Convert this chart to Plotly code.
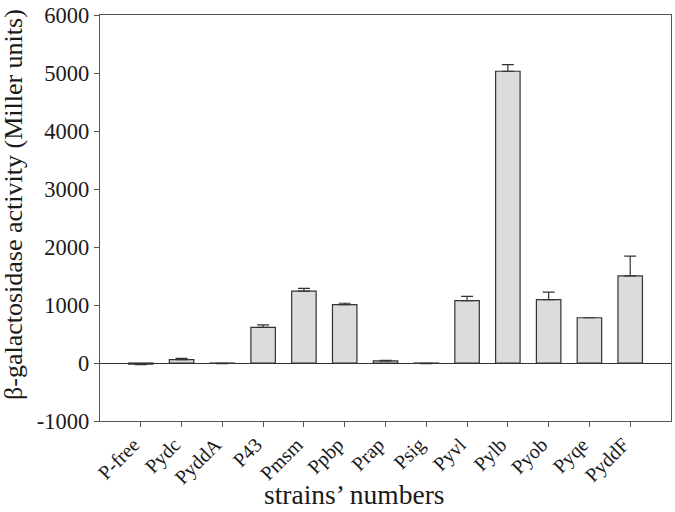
import plotly.graph_objects as go

strains = ["P-free", "Pydc", "PyddA", "P43", "Pmsm", "Ppbp", "Prap", "Psig",
           "Pyvl", "Pylb", "Pyob", "Pyqe", "PyddF"]
activity = [-20, 58, -5, 614, 1240, 1005, 38, -5, 1075, 5030, 1092, 780, 1502]
err_up = [0, 22, 0, 45, 45, 25, 8, 0, 75, 115, 130, 0, 340]
err_down = [10, 0, 5, 0, 0, 0, 0, 5, 0, 0, 0, 0, 0]
y_ticks = [-1000, 0, 1000, 2000, 3000, 4000, 5000, 6000]
y_ticktext = ["-1000", "0", "1000", "2000", "3000", "4000", "5000", "6000"]
x_title = "strains’ numbers"
y_title = "β-galactosidase activity (Miller units)"

font = "Liberation Serif"
axcol = "#555555"

fig = go.Figure(go.Bar(
    x=list(range(len(strains))), y=activity, width=0.6,
    marker=dict(color="#dcdcdc", line=dict(color="#333333", width=1.2)),
    error_y=dict(type="data", symmetric=False, array=err_up, arrayminus=err_down,
                 color="#333333", thickness=1.2, width=6),
))

fig.update_layout(
    width=675, height=512,
    margin=dict(l=100, r=3, t=11, b=91),
    plot_bgcolor="white", paper_bgcolor="white",
    showlegend=False,
    font=dict(family=font, color="#1a1a1a"),
    xaxis=dict(
        range=[-1, 13], tickmode="array", tickvals=list(range(len(strains))),
        ticktext=strains, tickangle=-45, tickfont=dict(size=20, family=font),
        ticks="outside", ticklen=5, tickcolor=axcol,
        ticklabelshift=-7, ticklabelstandoff=-2,
        showline=True, linecolor=axcol, linewidth=1.3, mirror=True,
        showgrid=False, zeroline=False,
    ),
    yaxis=dict(
        range=[-1000, 6000], tickmode="array", tickvals=y_ticks, ticktext=y_ticktext,
        tickfont=dict(size=22.5, family=font), ticklabeloverflow="allow",
        ticks="outside", ticklen=5, tickcolor=axcol,
        showline=True, linecolor=axcol, linewidth=1.3, mirror=True,
        showgrid=False, zeroline=True, zerolinecolor="#333333", zerolinewidth=1.2,
    ),
    annotations=[
        dict(text=x_title, xref="paper", yref="paper", x=(355 - 100) / 572, y=0,
             xanchor="center", yanchor="bottom", yshift=-91, showarrow=False,
             font=dict(size=27.5, family=font)),
        dict(text=y_title, xref="paper", yref="paper", x=0, y=0.5,
             xanchor="center", yanchor="middle", xshift=-87, yshift=13,
             textangle=-90, showarrow=False, font=dict(size=26, family=font)),
    ],
)

fig.write_html("out.html", config={"displayModeBar": False},
               post_script="document.body.style.margin='0';document.body.style.overflow='hidden';")
